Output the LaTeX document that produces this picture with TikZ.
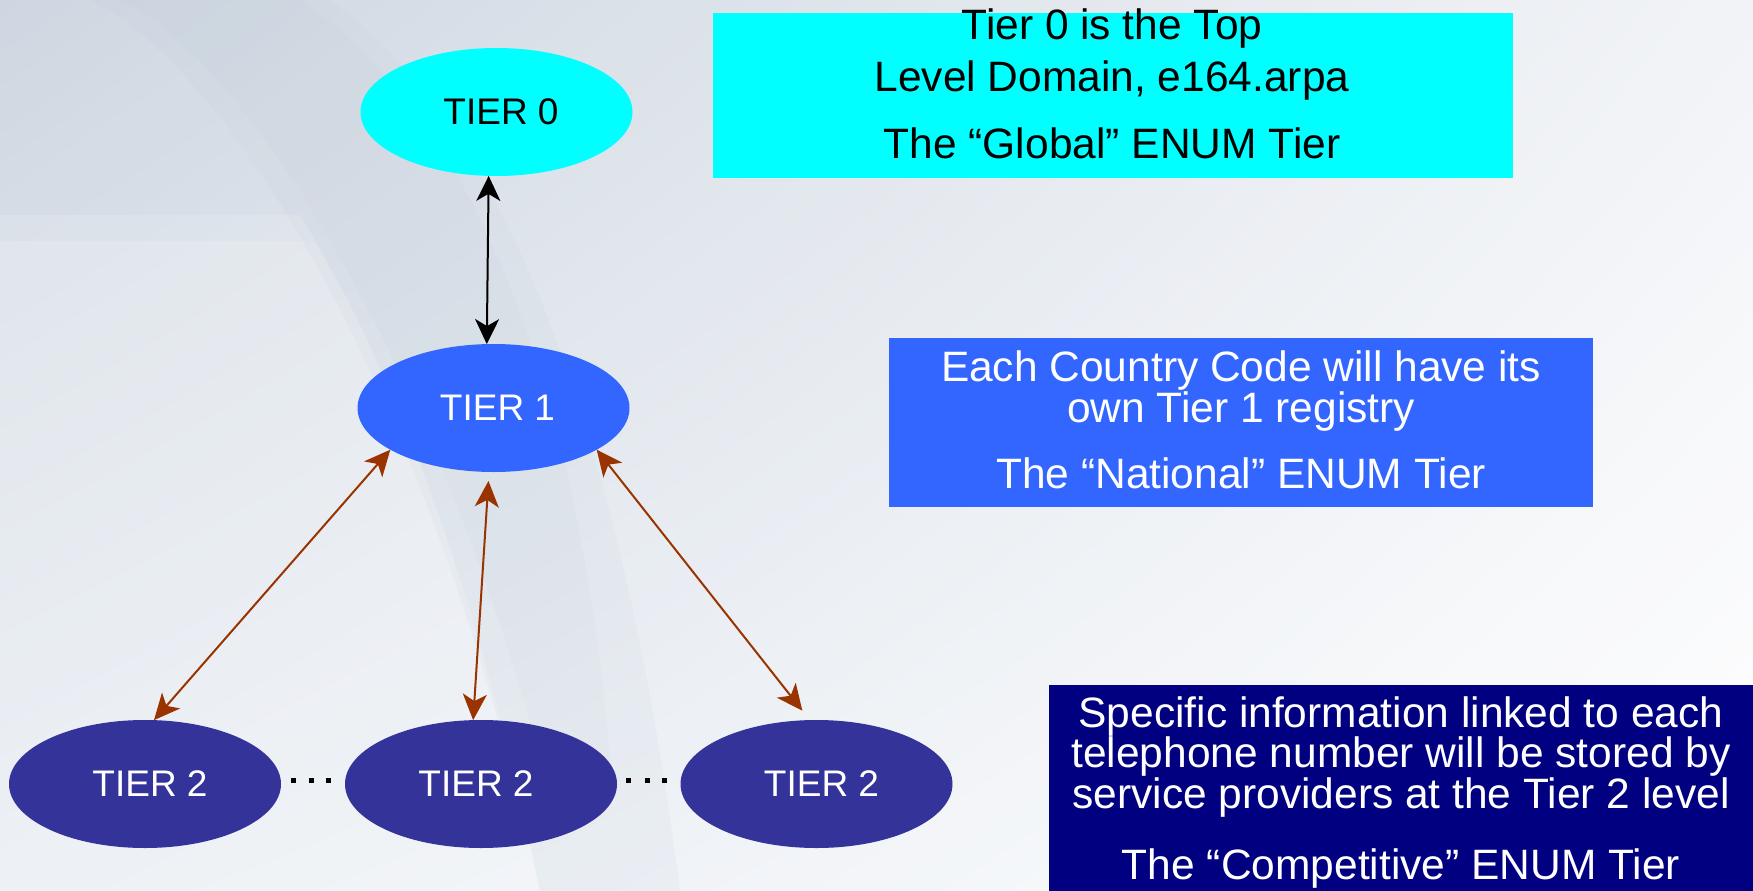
\documentclass[tikz,border=0pt]{standalone}
\usepackage{fontspec}
\setmainfont{Liberation Sans}
\usetikzlibrary{arrows.meta,shapes.geometric,shadings}
\definecolor{tzero}{HTML}{00FFFF}
\definecolor{tone}{HTML}{3366FF}
\definecolor{ttwo}{HTML}{333399}
\definecolor{navybox}{HTML}{000080}
\definecolor{brownarrow}{HTML}{993300}
\definecolor{bgUL}{HTML}{C6D0DC}
\definecolor{bgUR}{HTML}{F0F2F6}
\definecolor{bgLL}{HTML}{E4EAF1}
\definecolor{bgLR}{HTML}{FFFFFF}
\definecolor{bgband}{HTML}{AEBCCC}
\begin{document}
\begin{tikzpicture}[x=1pt,y=-1pt,
  tier/.style={ellipse, minimum width=272pt, minimum height=128pt, inner sep=0pt, outer sep=0pt,
    font=\fontsize{37}{40}\selectfont},
  infobox/.style={rectangle, inner sep=0pt, outer sep=0pt},
  boxline/.style={anchor=base, inner sep=0pt, font=\fontsize{42.5}{44}\selectfont},
  uplink/.style={draw=black, line width=2pt, {Stealth[length=25pt,width=24pt,inset=7pt]}-{Stealth[length=25pt,width=24pt,inset=7pt]}},
  downlink/.style={draw=brownarrow, line width=2pt, {Stealth[length=26pt,width=24pt,inset=7pt]}-{Stealth[length=26pt,width=24pt,inset=7pt]}},
  dotsq/.style={fill=black}
]
\useasboundingbox (0,0) rectangle (1753,891);
% background
\shade[upper left=bgUL, upper right=bgUR, lower left=bgLL, lower right=bgLR] (0,0) rectangle (1753,891);
\fill[white, opacity=0.15] (0,215) -- (300,215) .. controls (400,380) and (480,600) .. (540,891) -- (0,891) -- cycle;
\fill[white, opacity=0.15] (0,241) -- (314,241) .. controls (400,380) and (480,600) .. (540,891) -- (0,891) -- cycle;
\fill[bgband, opacity=0.10] (90,0) .. controls (220,60) and (430,380) .. (540,891) -- (680,891) .. controls (620,420) and (500,120) .. (330,0) -- cycle;
\fill[bgband, opacity=0.08] (120,0) .. controls (250,60) and (440,380) .. (540,760) -- (610,760) .. controls (580,400) and (480,120) .. (300,0) -- cycle;
\fill[white, opacity=0.15] (0,0) rectangle (1753,891);

% info boxes
\node[infobox, fill=tzero, minimum width=800pt, minimum height=165pt] (gbox) at (1113,95.5) {};
\node[infobox, fill=tone, minimum width=704pt, minimum height=169pt] (nbox) at (1241,422.5) {};
\node[infobox, fill=navybox, minimum width=704pt, minimum height=206pt] (cbox) at (1401,788) {};

\node[boxline] (g1) at (1112,40) {Tier 0 is the Top};
\node[boxline] (g2) at (1112,92) {Level Domain, e164.arpa};
\node[boxline] (g3) at (1112,158) {The “Global” ENUM Tier};

\node[boxline, text=white] (n1) at (1241,381) {Each Country Code will have its};
\node[boxline, text=white] (n2) at (1241,422) {own Tier 1 registry};
\node[boxline, text=white] (n3) at (1241,488) {The “National” ENUM Tier};

\node[boxline, text=white] (c1) at (1401,727) {Specific information linked to each};
\node[boxline, text=white] (c2) at (1401,767.5) {telephone number will be stored by};
\node[boxline, text=white] (c3) at (1401,808) {service providers at the Tier 2 level};
\node[boxline, text=white] (c4) at (1401,879) {The “Competitive” ENUM Tier};

% tiers
\node[tier, fill=tzero, text=black] (t0) at (496.5,112) {\hspace*{9pt}TIER 0};
\node[tier, fill=tone, text=white] (t1) at (493.5,408) {\hspace*{8pt}TIER 1};
\node[tier, fill=ttwo, text=white] (t2a) at (145,784) {\hspace*{10pt}TIER 2};
\node[tier, fill=ttwo, text=white] (t2b) at (481,784) {TIER 2\hspace*{10pt}};
\node[tier, fill=ttwo, text=white] (t2c) at (816.5,784) {\hspace*{10pt}TIER 2};

% dots
\foreach \x in {293,311,328,628,647,664}
  \fill[dotsq] (\x-2.5,777.5) rectangle (\x+2.5,782.5);

% connectors
\draw[uplink] (t0.263) -- (t1.96);
\draw[downlink] (t1.202) -- (t2a.82);
\draw[downlink, shorten <=9pt] (t1.266) -- (t2b.97);
\draw[downlink, shorten >=12pt] (t1.338) -- (t2c.96);
\end{tikzpicture}
\end{document}
